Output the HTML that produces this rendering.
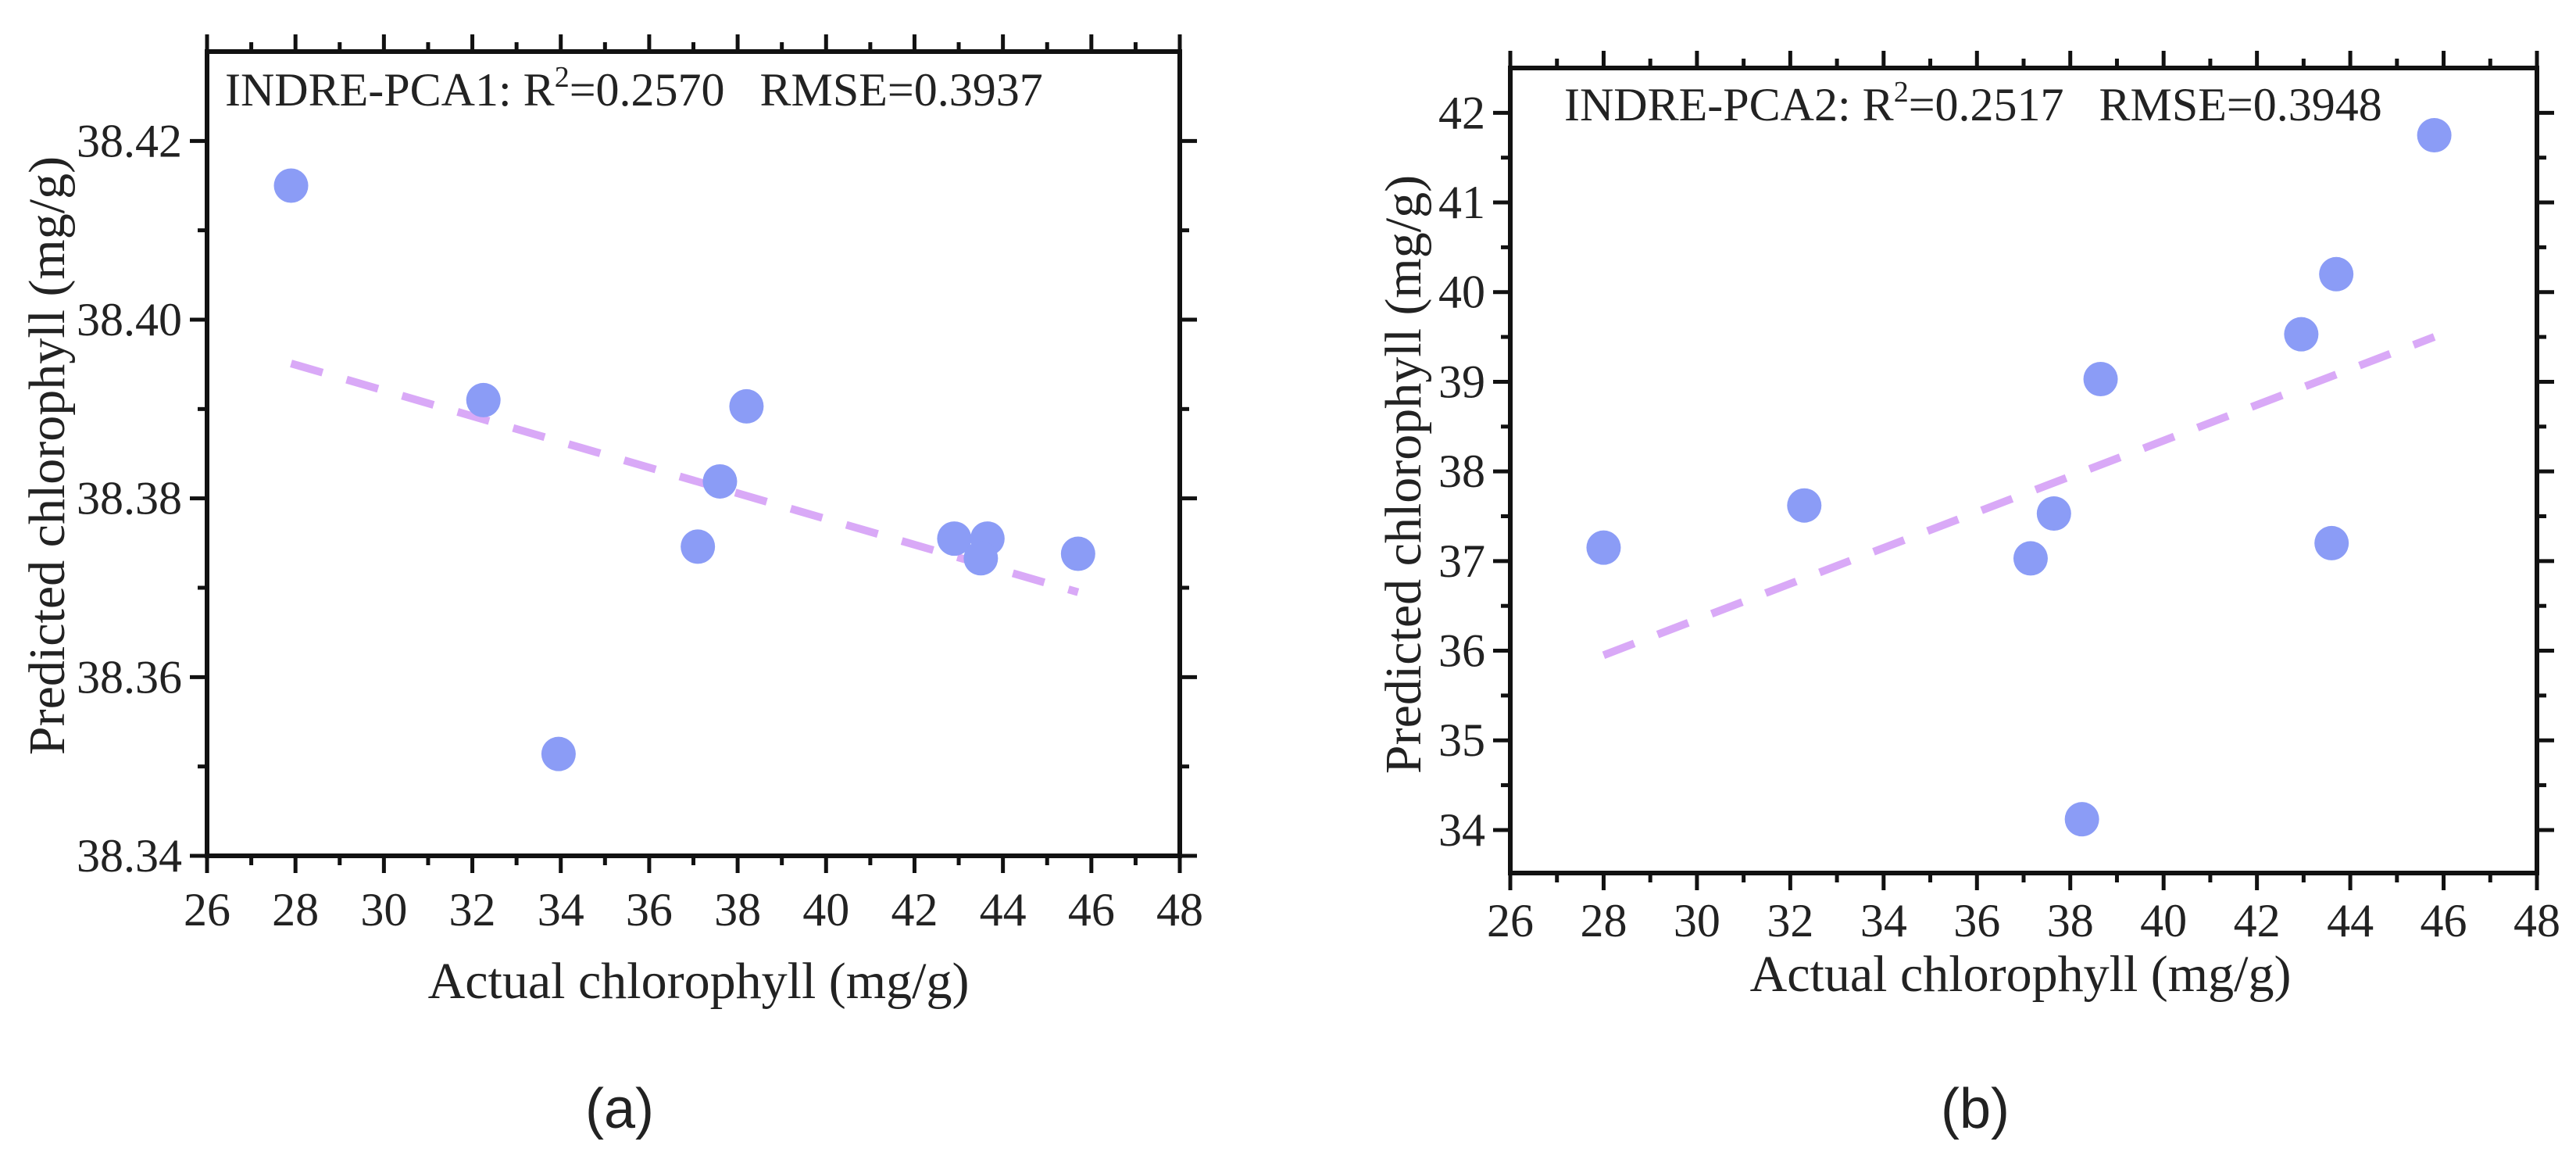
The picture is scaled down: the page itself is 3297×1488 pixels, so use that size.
<!DOCTYPE html>
<html><head><meta charset="utf-8"><style>
body{margin:0;background:#fff}
svg{display:block}
text{font-family:"Liberation Serif",serif;fill:#222}
</style></head><body>
<svg id="s" width="3297" height="1488" viewBox="0 0 3297 1488"></svg>
<script>
const xTicks=[26,28,30,32,34,36,38,40,42,44,46,48];
const aX=[27.9,32.25,33.95,37.1,37.6,38.2,42.9,43.65,43.5,45.7];
const aY=[38.415,38.391,38.3514,38.3746,38.3819,38.3903,38.3755,38.3755,38.3733,38.3738];
const aFitX=[27.9,45.7];
const aFitY=[38.3951,38.3695];
const aYTicks=[38.34,38.36,38.38,38.40,38.42];
const aYLabels=["38.34","38.36","38.38","38.40","38.42"];
const bX=[28.0,32.3,37.15,37.65,38.65,38.25,42.95,43.7,43.6,45.8];
const bY=[37.15,37.62,37.03,37.53,39.03,34.12,39.53,40.2,37.2,41.75];
const bFitX=[28.0,45.8];
const bFitY=[35.95,39.5];
const bYTicks=[34,35,36,37,38,39,40,41,42];
const bYLabels=["34","35","36","37","38","39","40","41","42"];

const svg=document.getElementById('s');
const NS='http://www.w3.org/2000/svg';
function mk(tag,attrs,parent){const e=document.createElementNS(NS,tag);for(const k in attrs)e.setAttribute(k,attrs[k]);(parent||svg).appendChild(e);return e;}

function panel(p){
  const g=mk('g',{});
  
  
  const sx=v=>p.L+(v-26)/(48-26)*(p.R-p.L);
  const sy=v=>p.B-(v-p.ymin)/(p.ymax-p.ymin)*(p.B-p.T);
  for(let i=0;i<xTicks.length;i++){
    const x=sx(xTicks[i]);
    mk('line',{x1:x,y1:p.B,x2:x,y2:p.B+22,stroke:'#111','stroke-width':5},g);
    mk('line',{x1:x,y1:p.T,x2:x,y2:p.T-22,stroke:'#111','stroke-width':5},g);
    const t=mk('text',{x:x,y:p.xlabY,'text-anchor':'middle','font-size':60},g);
    t.textContent=xTicks[i];
    
    
    if(i<xTicks.length-1){
      const xm=sx(xTicks[i]+1);
      mk('line',{x1:xm,y1:p.B,x2:xm,y2:p.B+12,stroke:'#111','stroke-width':5},g);
      mk('line',{x1:xm,y1:p.T,x2:xm,y2:p.T-12,stroke:'#111','stroke-width':5},g);
    }
  }
  const step=p.yTicks[1]-p.yTicks[0];
  for(let i=0;i<p.yTicks.length;i++){
    const y=sy(p.yTicks[i]);
    mk('line',{x1:p.L,y1:y,x2:p.L-22,y2:y,stroke:'#111','stroke-width':5},g);
    mk('line',{x1:p.R,y1:y,x2:p.R+22,y2:y,stroke:'#111','stroke-width':5},g);
    const t=mk('text',{x:p.L-32,y:y+20,'text-anchor':'end','font-size':60},g);
    t.textContent=p.yLabels[i];
    
    
    for(const h of [-0.5,0.5]){
      const v=p.yTicks[i]+h*step;
      if(v>p.ymin&&v<p.ymax&&!(h<0&&i>0)){
        const ym=sy(v);
        mk('line',{x1:p.L,y1:ym,x2:p.L-12,y2:ym,stroke:'#111','stroke-width':5},g);
        mk('line',{x1:p.R,y1:ym,x2:p.R+12,y2:ym,stroke:'#111','stroke-width':5},g);
      }
    }
  }
  const fr=mk('rect',{x:p.L,y:p.T,width:p.R-p.L,height:p.B-p.T,fill:'none',stroke:'#111','stroke-width':6},g);
  
  
  const fit=mk('line',{x1:sx(p.fx[0]),y1:sy(p.fy[0]),x2:sx(p.fx[1]),y2:sy(p.fy[1]),stroke:'#d9a9f7','stroke-width':10,'stroke-dasharray':'42 32'},g);
  
  
  for(let i=0;i<p.xs.length;i++){
    const c=mk('circle',{cx:sx(p.xs[i]),cy:sy(p.ys[i]),r:22,fill:'#8b9cf6'},g);
    
    
  }
  const an=mk('text',{x:p.annX,y:p.annY,'font-size':60,'xml:space':'preserve',style:'white-space:pre'},g);
  an.innerHTML=p.ann;
  
  
  const xt=mk('text',{x:p.xtX,y:p.xtY,'text-anchor':'middle','font-size':66},g);
  xt.textContent='Actual chlorophyll (mg/g)';
  
  
  const yt=mk('text',{x:0,y:0,'text-anchor':'middle','font-size':66,transform:`translate(${p.ytX},${p.ytY}) rotate(-90)`},g);
  yt.textContent='Predicted chlorophyll (mg/g)';
  
  
  const cap=mk('text',{x:p.capX,y:1443,'text-anchor':'middle','font-size':72,style:'font-family:"Liberation Sans",sans-serif'},g);
  cap.textContent=p.cap;
  
  
}

panel({name:'panel-a',L:265,R:1510,T:66,B:1095,ymin:38.34,ymax:38.43,yTicks:aYTicks,yLabels:aYLabels,
  xs:aX,ys:aY,fx:aFitX,fy:aFitY,xlabY:1184,annX:288,annY:135,
  ann:'INDRE-PCA1: R<tspan dy="-24" font-size="38">2</tspan><tspan dy="24">=0.2570   RMSE=0.3937</tspan>',
  xtX:894,xtY:1277,ytX:82,ytY:583,capX:793,cap:'(a)'});
panel({name:'panel-b',L:1933,R:3247,T:87,B:1117,ymin:33.52,ymax:42.5,yTicks:bYTicks,yLabels:bYLabels,
  xs:bX,ys:bY,fx:bFitX,fy:bFitY,xlabY:1198,annX:2002,annY:154,
  ann:'INDRE-PCA2: R<tspan dy="-24" font-size="38">2</tspan><tspan dy="24">=0.2517   RMSE=0.3948</tspan>',
  xtX:2586,xtY:1268,ytX:1818,ytY:607,capX:2528,cap:'(b)'});
</script>
</body></html>
